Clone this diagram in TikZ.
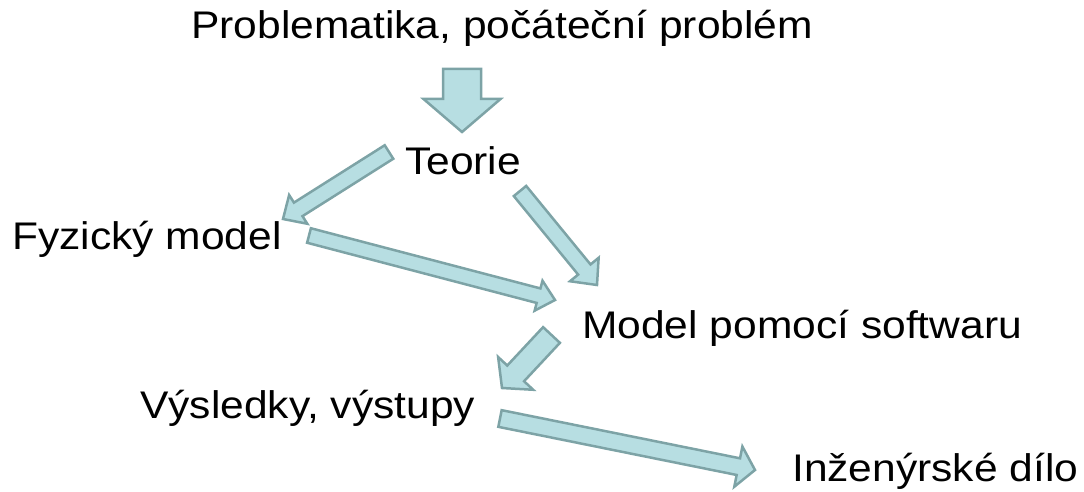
\documentclass[tikz,border=0pt]{standalone}
\usepackage{fontspec}
\setmainfont{Liberation Sans}
\newfontfamily\labelfont[FakeStretch=1.105]{Liberation Sans}
\usetikzlibrary{calc}

% block arrow from #1 to #2: half shaft width #3, half head width #4, head length #5
\newcommand\blockarrow[5]{%
  \coordinate (ba-neck) at ($(#2)!#5!(#1)$);
  \draw[barrow]
    ($(#1)!#3!90:(#2)$) -- ($(ba-neck)!#3!-90:(#1)$) -- ($(ba-neck)!#4!-90:(#1)$)
    -- (#2)
    -- ($(ba-neck)!#4!90:(#1)$) -- ($(ba-neck)!#3!90:(#1)$) -- ($(#1)!#3!-90:(#2)$) -- cycle;
}

\begin{document}
\begin{tikzpicture}[x=1pt,y=-1pt,
  barrow/.style={fill=arrowfill, draw=arrowedge, line width=2.5pt, line join=miter},
  label/.style={anchor=base west, inner sep=0pt, font=\labelfont\fontsize{38.5}{46}\selectfont}]
\definecolor{arrowfill}{RGB}{183,222,226}
\definecolor{arrowedge}{RGB}{125,163,166}
\useasboundingbox (0,0) rectangle (1084,492);

% labels
\node[label] (prob) at (191,39) {Problematika, počáteční problém};
\node[label] (teor) at (405,174) {Teorie};
\node[label] (fyz)  at (12,249) {Fyzický model};
\node[label] (soft) at (582,338) {Model pomocí softwaru};
\node[label] (vys)  at (140,418) {Výsledky, výstupy};
\node[label] (inz)  at (792,481) {Inženýrské dílo};

% arrow end points
\coordinate (a1s) at (462,69);    \coordinate (a1e) at (462,132);
\coordinate (a2s) at (389,152);   \coordinate (a2e) at (283,219);
\coordinate (a3s) at (309,235.5); \coordinate (a3e) at (555,300);
\coordinate (a4s) at (520,191);   \coordinate (a4e) at (597,285);
\coordinate (a5s) at (551.5,335); \coordinate (a5e) at (502,388);
\coordinate (a6s) at (500,418.5); \coordinate (a6e) at (755,470);

% arrows
\blockarrow{a1s}{a1e}{19pt}{38.5pt}{33pt}
\blockarrow{a2s}{a2e}{8pt}{17pt}{18pt}
\blockarrow{a3s}{a3e}{7.5pt}{15.5pt}{17pt}
\blockarrow{a4s}{a4e}{8pt}{18.5pt}{20pt}
\blockarrow{a5s}{a5e}{11.5pt}{24pt}{20pt}
\blockarrow{a6s}{a6e}{8.5pt}{20.5pt}{17pt}
\end{tikzpicture}
\end{document}
